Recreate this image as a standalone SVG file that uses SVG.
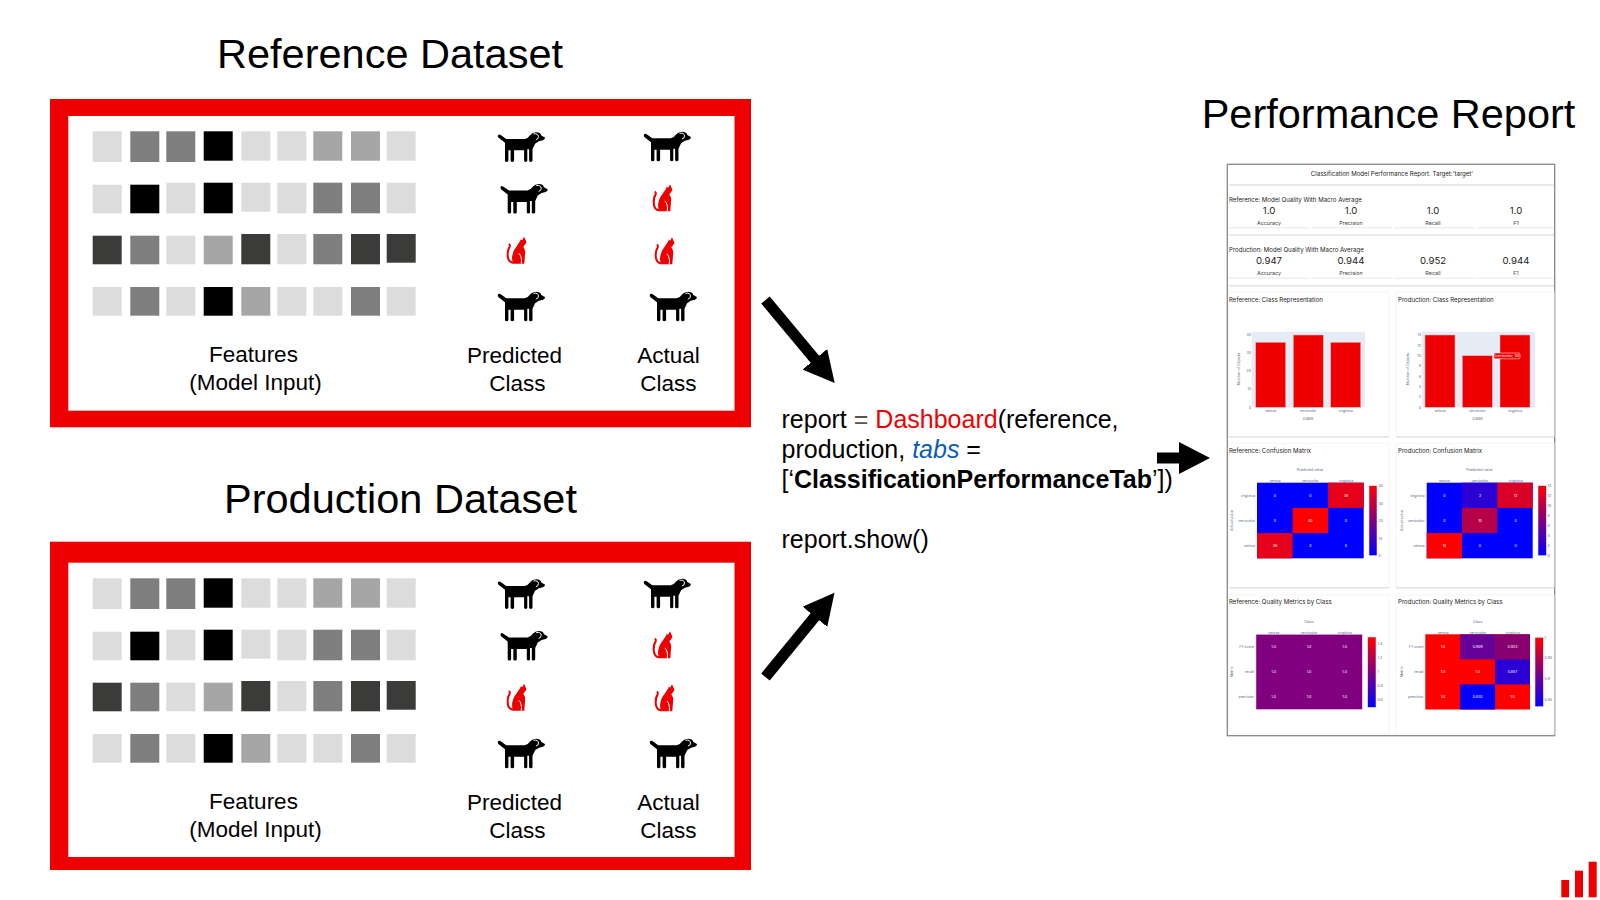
<svg xmlns="http://www.w3.org/2000/svg" width="1600" height="900" viewBox="0 0 1600 900">
<style>
text{font-family:"Liberation Sans",Arial,sans-serif}
.h{font-size:41.5px;text-anchor:middle}
.l{font-size:22.5px;text-anchor:middle}
.c{font-size:25px}
.outer{fill:#ee0000}
.inner{fill:#fff}
.L{fill:#dcdcdc}.M{fill:#7f7f7f}.A{fill:#a6a6a6}.D{fill:#3b3b3a}.K{fill:#000}
.r text{font-family:Inter,"Liberation Sans",sans-serif}
.t{font-size:6.1px;fill:#222}
.v{font-size:9.6px;text-anchor:middle;fill:#222}
.m{font-size:5.4px;text-anchor:middle;fill:#444}
.a{font-size:3.6px;fill:#5a6a88}
.e{text-anchor:end}.n{text-anchor:middle}
.w{font-size:3.6px;fill:#fff;text-anchor:middle}
.card{fill:#fff;stroke:#f6f6f6;stroke-width:1}
.sep{stroke:#e2e2e2;stroke-width:1.4;fill:none}
.thin{stroke:#e8e8e8;stroke-width:1;fill:none}
.arrow{stroke:#000;stroke-width:11;fill:none;marker-end:url(#head)}
.cb{fill:url(#blueRed);stroke:#dfe3f5;stroke-width:.6}
.bar{fill:#ee0000;stroke:#f7b4b4;stroke-width:.5}
.R{fill:#f00}.B{fill:#00f}
</style>
<defs>
<marker id="head" markerUnits="userSpaceOnUse" markerWidth="33" markerHeight="32" refX="1" refY="16" orient="auto"><path d="M0,0L31,16L0,32z" fill="#000"/></marker>
<linearGradient id="blueRed" x1="0" y1="1" x2="0" y2="0"><stop offset="0" stop-color="#00f"/><stop offset="1" stop-color="#f00"/></linearGradient>
<g id="dog"><path d="M0.4,3.6Q0.8,1.4 3,2.4L9,6.6L27.5,6.6Q31,5.6 33,2.6Q35,0 39,0Q43,0 44,3.2L47.6,5.2Q48,7 45.6,8L41.6,9L37.8,11.5L35.2,17L35.2,28.2Q35.2,29.6 33.5,29.6Q31.8,29.6 31.8,28.2L31.8,17L30,17L30,28.2Q30,29.6 28.4,29.6Q26.8,29.6 26.8,28.2L26.8,18L16.8,18L16.8,28.2Q16.8,29.6 15,29.6Q13.3,29.6 13.3,28.2L13.3,18L11.1,18L11.1,28.2Q11.1,29.6 9.4,29.6Q7.7,29.6 7.7,28.2L7.7,10.5L1,5.2z" fill="#000"/><path d="M36.2,1.6Q41,0.8 41.2,4.2Q41.2,6.8 38.6,7.4" fill="none" stroke="#fff" stroke-width="1"/></g>
<g id="cat"><path d="M17.3,0L19.8,5.6L18,8.4L16.6,10Q19,13 18.4,17L17.6,27L7,27Q4.8,24 5.4,20Q6.4,13.6 9.6,10L13,5L14,2.8L15.6,3.2z" fill="#ee0000"/><path d="M7,26.2Q1,25.6 1,18.5Q0.8,13 3,10Q3.6,8.5 2.2,7.2" fill="none" stroke="#ee0000" stroke-width="2"/><path d="M12.2,16.6Q15.4,19.6 14.6,27" fill="none" stroke="#fff" stroke-width="1"/></g>
<g id="squares">
<rect class="L" x="92.7" y="131.3" width="29" height="30.7"/><rect class="M" x="130.3" y="131.3" width="29" height="30.7"/><rect class="M" x="166.3" y="131.3" width="29" height="30.7"/><rect class="K" x="203.7" y="131.3" width="29" height="29.4"/><rect class="L" x="241.3" y="131.3" width="29" height="29.4"/><rect class="L" x="277.3" y="131.3" width="29" height="29.4"/><rect class="A" x="313.3" y="131.3" width="29" height="29.4"/><rect class="A" x="351" y="131.3" width="29" height="29.4"/><rect class="L" x="386.7" y="131.3" width="29" height="29.4"/>
<rect class="L" x="92.7" y="184.7" width="29" height="28.6"/><rect class="K" x="130.3" y="184.7" width="29" height="28.6"/><rect class="L" x="166.3" y="182.7" width="29" height="30.6"/><rect class="K" x="203.7" y="182.7" width="29" height="30.6"/><rect class="L" x="241.3" y="182.7" width="29" height="29"/><rect class="L" x="277.3" y="182.7" width="29" height="30.6"/><rect class="M" x="313.3" y="182.7" width="29" height="30.6"/><rect class="M" x="351" y="182.7" width="29" height="30.6"/><rect class="L" x="386.7" y="182.7" width="29" height="30.6"/>
<rect class="D" x="92.7" y="235.7" width="29" height="28.6"/><rect class="M" x="130.3" y="235.7" width="29" height="28.6"/><rect class="L" x="166.3" y="235.7" width="29" height="28.6"/><rect class="A" x="203.7" y="235.7" width="29" height="28.6"/><rect class="D" x="241.3" y="234" width="29" height="30.3"/><rect class="L" x="277.3" y="234" width="29" height="30.3"/><rect class="M" x="313.3" y="234" width="29" height="30.3"/><rect class="D" x="351" y="234" width="29" height="30.3"/><rect class="D" x="386.7" y="234" width="29" height="28.7"/>
<rect class="L" x="92.7" y="287" width="29" height="28.7"/><rect class="M" x="130.3" y="287" width="29" height="28.7"/><rect class="L" x="166.3" y="287" width="29" height="28.7"/><rect class="K" x="203.7" y="287" width="29" height="28.7"/><rect class="A" x="241.3" y="287" width="29" height="28.7"/><rect class="L" x="277.3" y="287" width="29" height="28.7"/><rect class="L" x="313.3" y="287" width="29" height="28.7"/><rect class="M" x="351" y="287" width="29" height="28.7"/><rect class="L" x="386.7" y="287" width="29" height="28.7"/>
</g>
<g id="pets">
<use href="#dog" x="497.3" y="132.3"/><use href="#dog" x="643.3" y="131.7"/>
<use href="#dog" x="500" y="184"/><use href="#cat" x="652.7" y="184.3"/>
<use href="#cat" x="506.7" y="236.7"/><use href="#cat" x="654.7" y="237.3"/>
<use href="#dog" x="497.3" y="291.7"/><use href="#dog" x="649.3" y="291.7"/>
</g>
</defs>
<rect width="1600" height="900" fill="#fff"/>

<g id="reference-dataset">
<text class="h" x="390" y="67.5">Reference Dataset</text>
<rect class="outer" x="50" y="99" width="701" height="328.3"/><rect class="inner" x="68.3" y="116" width="666.2" height="294.7"/>
<use href="#squares"/><use href="#pets"/>
<text class="l" x="253.5" y="362">Features</text><text class="l" x="255.5" y="389.5">(Model Input)</text>
<text class="l" x="514.5" y="363">Predicted</text><text class="l" x="517.5" y="391">Class</text>
<text class="l" x="668.5" y="363">Actual</text><text class="l" x="668.5" y="391">Class</text>
</g>

<g id="production-dataset">
<text class="h" x="400.5" y="513">Production Dataset</text>
<rect class="outer" x="50" y="541.7" width="701" height="328.3"/><rect class="inner" x="68.3" y="562.7" width="666.2" height="294.3"/>
<use href="#squares" y="447"/><use href="#pets" y="447"/>
<text class="l" x="253.5" y="809">Features</text><text class="l" x="255.5" y="836.5">(Model Input)</text>
<text class="l" x="514.5" y="810">Predicted</text><text class="l" x="517.5" y="838">Class</text>
<text class="l" x="668.5" y="810">Actual</text><text class="l" x="668.5" y="838">Class</text>
</g>

<g id="connectors">
<line class="arrow" x1="765.5" y1="300" x2="815.5" y2="360"/>
<line class="arrow" x1="765.5" y1="677" x2="815.5" y2="616"/>
<line class="arrow" x1="1157" y1="458" x2="1180" y2="458"/>
</g>

<g id="code">
<text class="c" x="781.5" y="427.5">report <tspan fill="#555">=</tspan> <tspan fill="#f00000">Dashboard</tspan>(reference,</text>
<text class="c" x="781.5" y="457.5">production, <tspan fill="#0b5cb8" font-style="italic">tabs</tspan> =</text>
<text class="c" x="781.5" y="487.5">[‘<tspan font-weight="bold">ClassificationPerformanceTab</tspan>’])</text>
<text class="c" x="781.5" y="547.5">report.show()</text>
</g>

<g id="performance-report" class="r">
<text class="h" x="1388.5" y="127.5" style="font-family:'Liberation Sans',Arial,sans-serif">Performance Report</text>
<rect x="1227.3" y="164.3" width="327.4" height="571.4" fill="#fff" stroke="#888" stroke-width="1.3"/>
<text class="t n" x="1392" y="176">Classification Model Performance Report. Target:'target'</text>
<path class="sep" d="M1229,185H1554M1229,235H1554M1229,285.7H1554"/>
<text class="t" x="1229" y="201.5">Reference: Model Quality With Macro Average</text>
<text class="v" x="1269" y="214">1.0</text><text class="v" x="1351" y="214">1.0</text><text class="v" x="1433" y="214">1.0</text><text class="v" x="1516" y="214">1.0</text>
<text class="m" x="1269" y="225">Accuracy</text><text class="m" x="1351" y="225">Precision</text><text class="m" x="1433" y="225">Recall</text><text class="m" x="1516" y="225">F1</text>
<path class="thin" d="M1229,227.8H1309M1311,227.8H1392M1394,227.8H1474M1476,227.8H1554"/>
<text class="t" x="1229" y="251.5">Production: Model Quality With Macro Average</text>
<text class="v" x="1269" y="264">0.947</text><text class="v" x="1351" y="264">0.944</text><text class="v" x="1433" y="264">0.952</text><text class="v" x="1516" y="264">0.944</text>
<text class="m" x="1269" y="275">Accuracy</text><text class="m" x="1351" y="275">Precision</text><text class="m" x="1433" y="275">Recall</text><text class="m" x="1516" y="275">F1</text>
<path class="thin" d="M1229,278H1309M1311,278H1392M1394,278H1474M1476,278H1554"/>

<rect class="card" x="1229" y="292" width="160" height="144.5"/><rect class="card" x="1396" y="292" width="158" height="144.5"/>
<path class="sep" d="M1229,437H1389M1396,437H1554"/>
<text class="t" x="1229" y="301.5">Reference: Class Representation</text><text class="t" x="1398" y="301.5">Production: Class Representation</text>
<rect x="1251.7" y="331.7" width="113.3" height="75.6" fill="#e5ecf6"/>
<rect class="bar" x="1255.7" y="342.3" width="30" height="65"/><rect class="bar" x="1293.3" y="335" width="30" height="72.3"/><rect class="bar" x="1330.7" y="342.3" width="30" height="65"/>
<g class="a e"><text x="1251" y="336.2">40</text><text x="1251" y="354">30</text><text x="1251" y="372.2">20</text><text x="1251" y="390.2">10</text><text x="1251" y="408.5">0</text></g>
<g class="a n"><text x="1270.7" y="411.5">setosa</text><text x="1308" y="411.5">versicolor</text><text x="1345.7" y="411.5">virginica</text><text x="1308" y="419.5" font-size="4">Class</text></g>
<text class="a n" transform="translate(1240 369) rotate(-90)">Number of Objects</text>
<rect x="1421.7" y="331.7" width="113.3" height="75.6" fill="#e5ecf6"/>
<rect class="bar" x="1425" y="335" width="30" height="72.3"/><rect class="bar" x="1462.3" y="355.7" width="30" height="51.6"/><rect class="bar" x="1500" y="335" width="30" height="72.3"/>
<rect x="1494" y="353" width="26" height="5.8" rx="1" fill="#ee0000" stroke="#fff" stroke-width=".5"/>
<text class="w" x="1507" y="357.2">(versicolor, 10)</text>
<g class="a e"><text x="1421" y="336.2">14</text><text x="1421" y="346.5">12</text><text x="1421" y="356.9">10</text><text x="1421" y="367.2">8</text><text x="1421" y="377.7">6</text><text x="1421" y="388.2">4</text><text x="1421" y="398.2">2</text><text x="1421" y="408.5">0</text></g>
<g class="a n"><text x="1440" y="411.5">setosa</text><text x="1477.5" y="411.5">versicolor</text><text x="1515" y="411.5">virginica</text><text x="1477.5" y="419.5" font-size="4">Class</text></g>
<text class="a n" transform="translate(1409 369) rotate(-90)">Number of Objects</text>

<rect class="card" x="1229" y="443.3" width="160" height="144"/><rect class="card" x="1396" y="443.3" width="158" height="144"/>
<path class="sep" d="M1229,587.8H1389M1396,587.8H1554"/>
<text class="t" x="1229" y="452.8">Reference: Confusion Matrix</text><text class="t" x="1398" y="452.8">Production: Confusion Matrix</text>
<text class="a n" x="1310" y="471.3">Predicted value</text><text class="a n" x="1479.5" y="471.3">Predicted value</text>
<g class="a n"><text x="1275" y="482">setosa</text><text x="1310.3" y="482">versicolor</text><text x="1346" y="482">virginica</text><text x="1444.3" y="482">setosa</text><text x="1480" y="482">versicolor</text><text x="1515.7" y="482">virginica</text></g>
<rect class="B" x="1257" y="482.7" width="106.7" height="75.6"/>
<rect x="1328.1" y="482.7" width="35.6" height="25.2" fill="#e60019"/><rect class="R" x="1292.6" y="507.9" width="35.5" height="25.2"/><rect x="1257" y="533.1" width="35.6" height="25.2" fill="#e60019"/>
<g class="w"><text x="1275" y="496.5">0</text><text x="1310.3" y="496.5">0</text><text x="1346" y="496.5">36</text><text x="1275" y="521.8">0</text><text x="1310.3" y="521.8">40</text><text x="1346" y="521.8">0</text><text x="1275" y="547">36</text><text x="1310.3" y="547">0</text><text x="1346" y="547">0</text></g>
<g class="a e"><text x="1255" y="496.5">virginica</text><text x="1255" y="521.8">versicolor</text><text x="1255" y="547">setosa</text><text x="1424.5" y="496.5">virginica</text><text x="1424.5" y="521.8">versicolor</text><text x="1424.5" y="547">setosa</text></g>
<text class="a n" transform="translate(1233 520.7) rotate(-90)">Actual value</text><text class="a n" transform="translate(1402.5 520.7) rotate(-90)">Actual value</text>
<rect class="cb" x="1369" y="485.7" width="8" height="70"/>
<g class="a"><text x="1378.5" y="487.2">40</text><text x="1378.5" y="504.7">30</text><text x="1378.5" y="522.2">20</text><text x="1378.5" y="539.7">10</text><text x="1378.5" y="557">0</text></g>
<rect class="B" x="1426.7" y="482.7" width="106" height="75.6"/>
<rect x="1462" y="482.7" width="35.3" height="25.2" fill="#2a00d5"/><rect x="1497.3" y="482.7" width="35.4" height="25.2" fill="#da0025"/><rect x="1462" y="507.9" width="35.3" height="25.2" fill="#b6004a"/><rect class="R" x="1426.7" y="533.1" width="35.3" height="25.2"/>
<g class="w"><text x="1444.3" y="496.5">0</text><text x="1480" y="496.5">2</text><text x="1515.7" y="496.5">12</text><text x="1444.3" y="521.8">0</text><text x="1480" y="521.8">10</text><text x="1515.7" y="521.8">0</text><text x="1444.3" y="547">14</text><text x="1480" y="547">0</text><text x="1515.7" y="547">0</text></g>
<rect class="cb" x="1538" y="485.7" width="8.3" height="70"/>
<g class="a"><text x="1547.5" y="486.8">14</text><text x="1547.5" y="496.8">12</text><text x="1547.5" y="506.8">10</text><text x="1547.5" y="516.8">8</text><text x="1547.5" y="526.8">6</text><text x="1547.5" y="536.8">4</text><text x="1547.5" y="546.8">2</text><text x="1547.5" y="556.8">0</text></g>

<rect class="card" x="1229" y="595" width="160" height="139"/><rect class="card" x="1396" y="595" width="158" height="139"/>
<text class="t" x="1229" y="604.3">Reference: Quality Metrics by Class</text><text class="t" x="1398" y="604.3">Production: Quality Metrics by Class</text>
<text class="a n" x="1309" y="623">Class</text><text class="a n" x="1477.7" y="623">Class</text>
<g class="a n"><text x="1273.7" y="633.5">setosa</text><text x="1309" y="633.5">versicolor</text><text x="1344.7" y="633.5">virginica</text><text x="1443" y="633.5">setosa</text><text x="1477.7" y="633.5">versicolor</text><text x="1512.5" y="633.5">virginica</text></g>
<rect x="1256" y="634.3" width="106.3" height="75.2" fill="#800080" stroke="#ecdcec" stroke-width=".5"/>
<g class="w"><text x="1273.7" y="648.2">1.0</text><text x="1309" y="648.2">1.0</text><text x="1344.7" y="648.2">1.0</text><text x="1273.7" y="673">1.0</text><text x="1309" y="673">1.0</text><text x="1344.7" y="673">1.0</text><text x="1273.7" y="698.2">1.0</text><text x="1309" y="698.2">1.0</text><text x="1344.7" y="698.2">1.0</text></g>
<g class="a e"><text x="1254" y="648.2">F1-score</text><text x="1254" y="673">recall</text><text x="1254" y="698.2">precision</text><text x="1423.5" y="648.2">F1-score</text><text x="1423.5" y="673">recall</text><text x="1423.5" y="698.2">precision</text></g>
<text class="a n" transform="translate(1233 671.7) rotate(-90)">Metric</text><text class="a n" transform="translate(1402.5 671.7) rotate(-90)">Metric</text>
<rect class="cb" x="1367.7" y="637" width="8.3" height="70.3"/>
<g class="a"><text x="1377.5" y="645.2">1.4</text><text x="1377.5" y="659.2">1.2</text><text x="1377.5" y="673.2">1</text><text x="1377.5" y="687.2">0.8</text><text x="1377.5" y="701.2">0.6</text></g>
<rect class="R" x="1425.3" y="634.3" width="104.7" height="75.2"/>
<rect x="1460.2" y="634.3" width="34.9" height="25" fill="#650099"/><rect x="1495.1" y="634.3" width="34.9" height="25" fill="#86006f"/><rect x="1495.1" y="659.3" width="34.9" height="25.1" fill="#2a00d5"/><rect class="B" x="1460.2" y="684.4" width="34.9" height="25.1"/>
<g class="w"><text x="1443" y="648.2">1.0</text><text x="1477.7" y="648.2">0.909</text><text x="1512.5" y="648.2">0.923</text><text x="1443" y="673">1.0</text><text x="1477.7" y="673">1.0</text><text x="1512.5" y="673">0.857</text><text x="1443" y="698.2">1.0</text><text x="1477.7" y="698.2">0.833</text><text x="1512.5" y="698.2">1.0</text></g>
<rect class="cb" x="1535" y="637.3" width="8.3" height="69.4"/>
<g class="a"><text x="1544.5" y="639.2">1</text><text x="1544.5" y="658.9">0.95</text><text x="1544.5" y="680.2">0.9</text><text x="1544.5" y="701.2">0.85</text></g>
</g>

<g id="logo" fill="#ee0000">
<rect x="1561.3" y="880" width="7.8" height="17.3"/><rect x="1575" y="870.7" width="8" height="26.6"/><rect x="1588.7" y="861.7" width="8" height="35.6"/>
</g>
</svg>
